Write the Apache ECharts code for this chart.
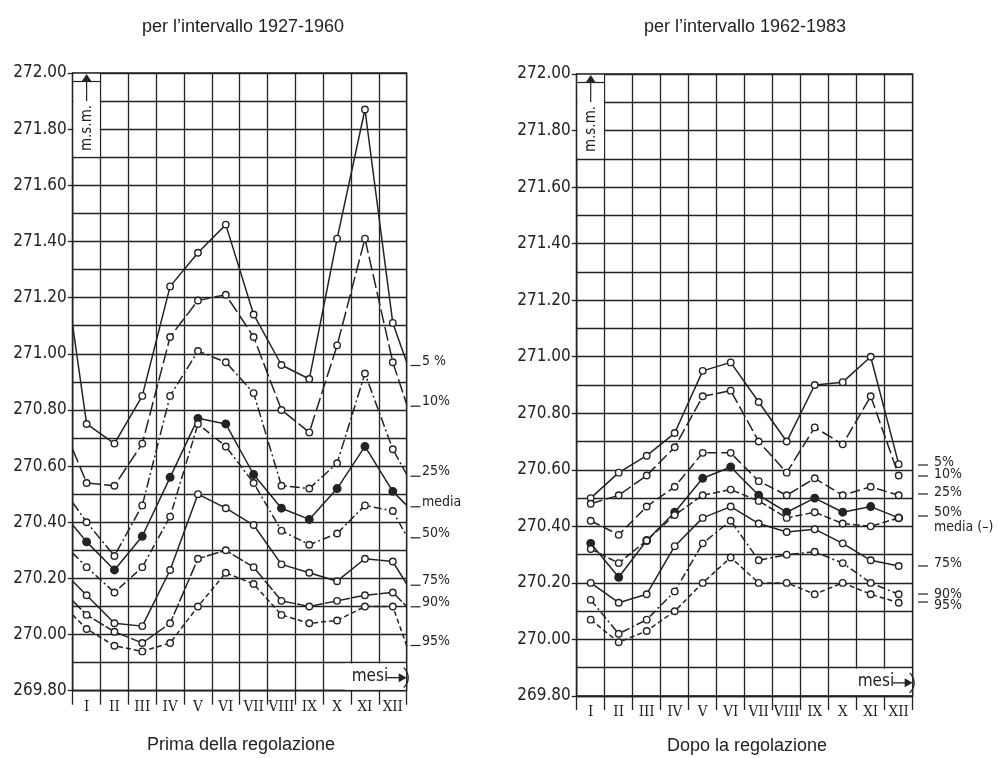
<!DOCTYPE html>
<html><head><meta charset="utf-8">
<script src="https://cdn.jsdelivr.net/npm/echarts@6/dist/echarts.min.js"></script>
<style>html,body{margin:0;padding:0;background:#fff}#c{width:998px;height:758px}</style>
</head><body><div id="c"></div>
<script>
// ---------- DATA ----------
const months = ['I','II','III','IV','V','VI','VII','VIII','IX','X','XI','XII'];
const yTicks = [269.8, 270.0, 270.2, 270.4, 270.6, 270.8, 271.0, 271.2, 271.4, 271.6, 271.8, 272.0];

// Prima della regolazione (1927-1960): monthly values I..XII, plus values at the left and right frame edges
const pre05 = [270.75,270.68,270.85,271.24,271.36,271.46,271.14,270.96,270.91,271.41,271.87,271.11];
const pre10 = [270.54,270.53,270.68,271.06,271.19,271.21,271.06,270.80,270.72,271.03,271.41,270.97];
const pre25 = [270.40,270.28,270.46,270.85,271.01,270.97,270.86,270.53,270.52,270.61,270.93,270.66];
const preMedia = [270.33,270.23,270.35,270.56,270.77,270.75,270.57,270.45,270.41,270.52,270.67,270.51];
const pre50 = [270.24,270.15,270.24,270.42,270.75,270.67,270.54,270.37,270.32,270.36,270.46,270.44];
const pre75 = [270.14,270.04,270.03,270.23,270.50,270.45,270.39,270.25,270.22,270.19,270.27,270.26];
const pre90 = [270.07,270.01,269.97,270.04,270.27,270.30,270.24,270.12,270.10,270.12,270.14,270.15];
const pre95 = [270.02,269.96,269.94,269.97,270.10,270.22,270.18,270.07,270.04,270.05,270.10,270.10];
// edge values [left edge, right edge] in the same order 5%,10%,25%,media,50%,75%,90%,95%
const preStart = [271.10,270.66,270.47,270.39,270.29,270.19,270.12,270.07];
const preEnd   = [270.97,270.82,270.57,270.46,270.35,270.18,270.10,269.96];

// Dopo la regolazione (1962-1983)
const post05 = [270.50,270.59,270.65,270.73,270.95,270.98,270.84,270.70,270.90,270.91,271.00,270.62];
const post10 = [270.48,270.51,270.58,270.68,270.86,270.88,270.70,270.59,270.75,270.69,270.86,270.58];
const post25 = [270.42,270.37,270.47,270.54,270.66,270.66,270.56,270.51,270.57,270.51,270.54,270.51];
const postMedia = [270.34,270.22,270.35,270.45,270.57,270.61,270.51,270.45,270.50,270.45,270.47,270.43];
const post50 = [270.32,270.27,270.35,270.44,270.51,270.53,270.49,270.43,270.45,270.41,270.40,270.43];
const post75 = [270.20,270.13,270.16,270.33,270.43,270.47,270.41,270.38,270.39,270.34,270.28,270.26];
const post90 = [270.14,270.02,270.07,270.17,270.34,270.42,270.28,270.30,270.31,270.27,270.20,270.16];
const post95 = [270.07,269.99,270.03,270.10,270.20,270.29,270.20,270.20,270.16,270.20,270.16,270.13];

const seriesNames = ['5%','10%','25%','media','50%','75%','90%','95%'];
const leftLabels = ['5 %','10%','25%','media','50%','75%','90%','95%'];
const rightLabels = ['5%','10%','25%','50%','media (\u2013)','75%','90%','95%'];

// ---------- STYLE / LAYOUT ----------
const INK = '#232323';
const G = [
  {left:72.7, top:73, width:334, height:617.7},
  {left:576.7, top:74, width:336, height:622}
];
const preStyles = [
  {type:'solid'}, {type:[14,4]}, {type:[10,3,2,3]}, {type:'solid', filled:true},
  {type:[8,3,2,3]}, {type:'solid'}, {type:[12,2]}, {type:[5,3]}
];
const postStyles = [
  {type:'solid'}, {type:[12,4]}, {type:[10,4]}, {type:'solid', filled:true},
  {type:[7,3]}, {type:'solid'}, {type:[8,3,2,3]}, {type:[5,3]}
];
const leftLabelY = [361, 401.7, 471.7, 502.3, 533.3, 580.7, 602.3, 641];
const rightLabelY = [462.7, 474, 492, 512, 527.5, 563.5, 594, 605];
const rightDashY = [465, 476, 494, 516, null, 566, 594, 602];

const preSets = [pre05, pre10, pre25, preMedia, pre50, pre75, pre90, pre95];
const postSets = [post05, post10, post25, postMedia, post50, post75, post90, post95];

function buildSeries(vals, idx, panel, st, edges) {
  const data = [];
  if (edges) data.push({value:[0, edges[0]], symbol:'none'});
  vals.forEach((v, i) => data.push([i + 0.5, v]));
  if (edges) data.push({value:[12, edges[1]], symbol:'none'});
  return {
    name: seriesNames[idx] + (panel ? ' dopo' : ' prima'),
    type:'line', xAxisIndex: panel*2 + 1, yAxisIndex: panel,
    data, symbol:'circle', symbolSize: st.filled ? 7.5 : 6.5,
    lineStyle:{color:INK, width:1.5, type: st.type},
    itemStyle:{color: st.filled ? INK : '#fff', borderColor:INK, borderWidth:1.4},
    emphasis:{disabled:true}, animation:false, z:3
  };
}

const series = [];
preSets.forEach((v, i) => series.push(buildSeries(v, i, 0, preStyles[i], [preStart[i], preEnd[i]])));
postSets.forEach((v, i) => series.push(buildSeries(v, i, 1, postStyles[i], null)));

const lineSt = {color:INK, width:1.3};
function xAxes(gi) {
  return [
    {gridIndex:gi, type:'category', data:months, boundaryGap:true,
     axisLine:{show:true, lineStyle:lineSt},
     axisTick:{show:true, interval:0, length:14, lineStyle:lineSt},
     splitLine:{show:true, interval:0, lineStyle:lineSt},
     axisLabel:{interval:0, hideOverlap:false, fontFamily:'DejaVu Serif Condensed, Liberation Serif, serif',
       fontSize:15, color:INK, margin:9}},
    {gridIndex:gi, type:'value', min:0, max:12, show:false}
  ];
}
function yAxis(gi) {
  return {gridIndex:gi, type:'value', min:yTicks[0], max:yTicks[yTicks.length-1], interval:0.2,
    axisLine:{show:true, lineStyle:lineSt},
    axisTick:{show:true, length:5, lineStyle:lineSt},
    minorTick:{show:false, splitNumber:2},
    splitLine:{show:true, lineStyle:lineSt},
    minorSplitLine:{show:true, lineStyle:lineSt},
    axisLabel:{formatter:v => v.toFixed(2), fontFamily:'DejaVu Sans Condensed, sans-serif',
      fontSize:17, color:INK, margin:6}};
}

// ---------- GRAPHICS (annotations) ----------
const graphic = [];
function txt(x, y, s, size, align, font, extra) {
  graphic.push(Object.assign({type:'text', x, y, z:100,
    style:{text:s, fill:INK, fontSize:size, fontFamily:font || 'Liberation Sans, Arial, sans-serif',
      align:align || 'left', verticalAlign:'middle'}}, extra || {}));
}
function line(x1, y1, x2, y2, w) {
  graphic.push({type:'line', z:100, shape:{x1, y1, x2, y2}, style:{stroke:INK, lineWidth:w || 1.3}});
}
txt(243, 27, 'per l\u2019intervallo 1927-1960', 18, 'center');
txt(745, 27, 'per l\u2019intervallo 1962-1983', 18, 'center');
txt(241, 745, 'Prima della regolazione', 18, 'center');
txt(747, 746, 'Dopo la regolazione', 18, 'center');

const lblFont = 'DejaVu Sans Condensed, sans-serif';
leftLabels.forEach((s, i) => {
  line(410.5, leftLabelY[i] + 4.5, 420.5, leftLabelY[i] + 4.5, 1.2);
  txt(422, leftLabelY[i], s, 14, 'left', lblFont);
});
rightLabels.forEach((s, i) => {
  if (rightDashY[i] !== null) line(918, rightDashY[i], 928, rightDashY[i], 1.2);
  txt(934, rightLabelY[i], s, 14, 'left', lblFont);
});

// m.s.m. boxes and mesi arrows
G.forEach((g, k) => {
  const cw = g.width / 12;
  const ppu = g.height / 2.2;
  const yTop = g.top, y17 = g.top + 0.3 * ppu;
  const cx = g.left + cw / 2;
  graphic.push({type:'rect', z:99, shape:{x:g.left + 0.8, y:yTop + 0.8, width:cw - 1.6, height:y17 - yTop - 1.6},
    style:{fill:'#fff'}});
  line(g.left, yTop + 8.5, g.left + cw, yTop + 8.5, 1.2);
  graphic.push({type:'polygon', z:100, shape:{points:[[cx, yTop + 1], [cx - 5, yTop + 8.5], [cx + 5, yTop + 8.5]]},
    style:{fill:INK}});
  line(cx, yTop + 8.5, cx, yTop + 28, 1.2);
  graphic.push({type:'text', z:100, x:cx, y:yTop + 55, rotation:Math.PI / 2,
    style:{text:'m.s.m.', fill:INK, fontSize:15, fontFamily:lblFont, align:'center', verticalAlign:'middle'}});
  // mesi
  const yb = g.top + g.height, y19 = yb - 0.1 * ppu;
  const xr = g.left + g.width;
  graphic.push({type:'rect', z:99, shape:{x:xr - 62, y:y19 + 0.9, width:61, height:yb - y19 - 1.8},
    style:{fill:'#fff'}});
  const ym = (y19 + yb) / 2 + 1;
  txt(xr - 55, ym - 1, 'mesi', 17, 'left', lblFont);
  line(xr - 20, ym, xr - 2, ym, 1.3);
  graphic.push({type:'polygon', z:100, shape:{points:[[xr, ym], [xr - 8, ym - 4.5], [xr - 8, ym + 4.5]]},
    style:{fill:INK}});
  graphic.push({type:'bezierCurve', z:100, shape:{x1:xr - 3, y1:ym - 10, x2:xr - 3, y2:ym + 10, cpx1:xr + 3, cpy1:ym - 4, cpx2:xr + 3, cpy2:ym + 4},
    style:{stroke:INK, lineWidth:1.3, fill:null}});
});

const chart = echarts.init(document.getElementById('c'));
chart.setOption({
  backgroundColor:'#fff',
  animation:false,
  grid: G.map(g => Object.assign({show:true, borderColor:INK, borderWidth:1.3, backgroundColor:'transparent'}, g)),
  xAxis: xAxes(0).concat(xAxes(1)),
  yAxis: [yAxis(0), yAxis(1)],
  series,
  graphic
});
</script></body></html>
